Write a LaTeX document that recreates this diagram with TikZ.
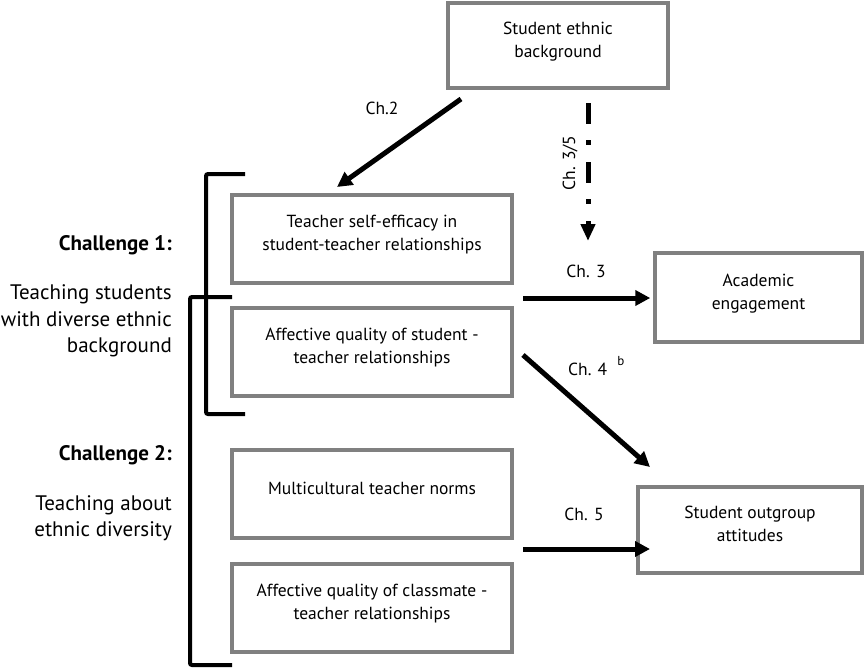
\documentclass[tikz,border=0pt]{standalone}
\usepackage{fontspec}
\setmainfont{PT Sans}
\usetikzlibrary{positioning,arrows.meta}
\definecolor{boxgray}{RGB}{128,128,128}

\begin{document}
\begin{tikzpicture}[x=1pt,y=-1pt,
    every node/.style={font=\fontsize{17.5}{23}\selectfont},
    box/.style={draw=boxgray,line width=3.5pt,align=center,inner sep=0pt,text depth=12pt},
    arr/.style={-{Triangle[length=15pt,width=15pt]},line width=5pt},
    brk/.style={line width=4pt,rounded corners=2pt},
    chlbl/.style={inner sep=0pt,font=\fontsize{17.5}{20}\selectfont},
    side/.style={anchor=east,align=right,inner sep=0pt,font=\fontsize{21}{26.5}\selectfont}]
  \useasboundingbox (0,0) rectangle (864,669);
  % boxes
  \node[box,minimum width=220,minimum height=85] at (558,45.5) (seb) {Student ethnic\\background};
  \node[box,minimum width=280,minimum height=88] at (372,239) (tse) {Teacher self-efficacy in\\student-teacher relationships};
  \node[box,minimum width=280,minimum height=88] at (372,352) (aqs) {Affective quality of student -\\teacher relationships};
  \node[box,minimum width=280,minimum height=88] at (372,494) (mtn) {Multicultural teacher norms};
  \node[box,minimum width=280,minimum height=88] at (372,608) (aqc) {Affective quality of classmate -\\teacher relationships};
  \node[box,minimum width=207,minimum height=89] at (758.5,297.5) (ae) {Academic\\engagement};
  \node[box,minimum width=224,minimum height=86] at (750,530) (soa) {Student outgroup\\attitudes};
  % challenges
  \node[side] at (172,245) (ch1) {\textbf{Challenge 1:}};
  \node[side] at (172,321) (ch1txt) {Teaching students\\with diverse ethnic\\background};
  \node[side] at (172,455) (ch2) {\textbf{Challenge 2:}};
  \node[side] at (172,518) (ch2txt) {Teaching about\\ethnic diversity};
  \draw[brk] (245,174) -- (206,174) -- (206,414) -- (245,414);
  \draw[brk] (232,297) -- (190,297) -- (190,665) -- (232,665);
  % arrow ends
  \coordinate (c2a) at (461,99);
  \coordinate (c2b) at (337,187);
  \coordinate (c35a) at (588,103);
  \coordinate (c35b) at (588,241);
  \coordinate (c3a) at (523,298);
  \coordinate (c4a) at (523,355);
  \coordinate (c4b) at (650,467);
  \coordinate (c5a) at (523,549);
  \coordinate (c5b) at (650,549);
  \draw[arr] (c2a) -- (c2b);
  \draw[line width=5pt,dash pattern=on 21pt off 16pt on 5pt off 17pt,-{Triangle[length=17pt,width=14pt]}] (c35a) -- (c35b);
  \draw[arr,shorten >=3pt] (c3a) -- (c3a -| ae.west);
  \draw[arr] (c4a) -- (c4b);
  \draw[arr] (c5a) -- (c5b);
  % chapter labels
  \node[chlbl] at (382,108) (l2) {Ch.2};
  \node[chlbl,rotate=90] at (570,163) (l35) {Ch. 3/5};
  \node[chlbl] at (586,271) (l3) {Ch. 3};
  \node[chlbl,anchor=west] at (568,366) (l4) {Ch. 4\hspace{10pt}\raisebox{10pt}{\fontsize{13}{13}\selectfont b}};
  \node[chlbl] at (584,514) (l5) {Ch. 5};
\end{tikzpicture}
\end{document}
